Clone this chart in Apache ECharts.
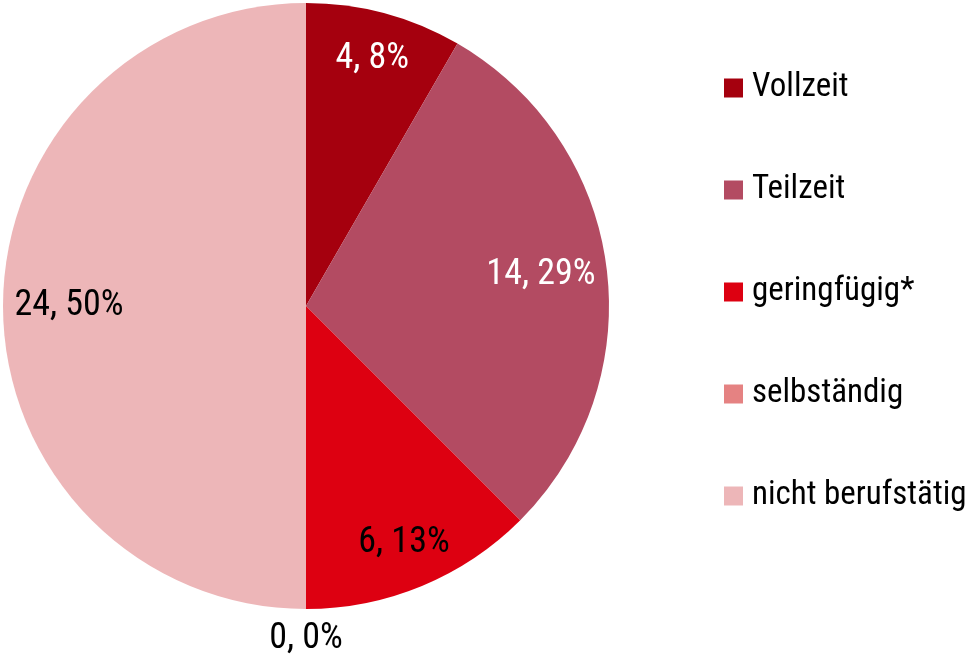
<!DOCTYPE html>
<html><head><meta charset="utf-8">
<script src="https://cdn.jsdelivr.net/npm/echarts@6/dist/echarts.min.js"></script>
<style>html,body{margin:0;padding:0;background:#fff}#c{width:967px;height:658px}</style>
</head><body><div id="c"></div>
<script>
const categories = ['Vollzeit', 'Teilzeit', 'geringfügig*', 'selbständig', 'nicht berufstätig'];
const values = [4, 14, 6, 0, 24];
const sliceColors = ['#A5000E', '#B34B62', '#DD0011', '#E58282', '#EDB6B8'];
const labelColors = ['#ffffff', '#ffffff', '#000000', '#000000', '#000000'];

const FONT = "Roboto, 'Liberation Sans', sans-serif";
const FW = 'condensed';   // font-stretch keyword, placed in the canvas font shorthand
const CX = 306, CY = 306, R = 303;

function labelRing(name, r0, r1, shown) {
  return {
    type: 'pie', name: name, radius: [r0, r1], center: [CX, CY], silent: true,
    clockwise: true, startAngle: 90, emphasis: { disabled: true }, z: 3,
    labelLine: { show: false }, avoidLabelOverlap: false,
    itemStyle: { color: 'rgba(0,0,0,0)', borderWidth: 0 },
    label: { position: 'inside', fontFamily: FONT, fontWeight: FW, fontSize: 36,
      formatter: p => p.value + ', ' + Math.round(p.percent) + '%' },
    data: categories.map((n, i) => ({ name: n, value: values[i],
      label: { show: shown.indexOf(i) >= 0, color: labelColors[i] } }))
  };
}

const chart = echarts.init(document.getElementById('c'), null, { renderer: 'canvas' });
chart.setOption({
  animation: false,
  backgroundColor: '#ffffff',
  legend: {
    orient: 'vertical', left: 719, top: 63, itemWidth: 19, itemHeight: 19, itemGap: 62,
    icon: 'rect', selectedMode: false, data: categories,
    textStyle: { fontFamily: FONT, fontWeight: FW, fontSize: 33, color: '#000', lineHeight: 40, padding: [0, 0, 0, 4] }
  },
  series: [
    {
      type: 'pie', name: 'main', radius: [0, R], center: [CX, CY], clockwise: true, startAngle: 90,
      label: { show: false }, labelLine: { show: false }, silent: true, emphasis: { disabled: true },
      itemStyle: { borderWidth: 0 },
      data: categories.map((n, i) => ({ name: n, value: values[i], itemStyle: { color: sliceColors[i] } }))
    },
    labelRing('ringA', 203, R, [0, 2]),
    labelRing('ringB', 165, R, [1, 4]),
    labelRing('ringC', 310, 350, [3])
  ]
});
</script>
</body></html>
